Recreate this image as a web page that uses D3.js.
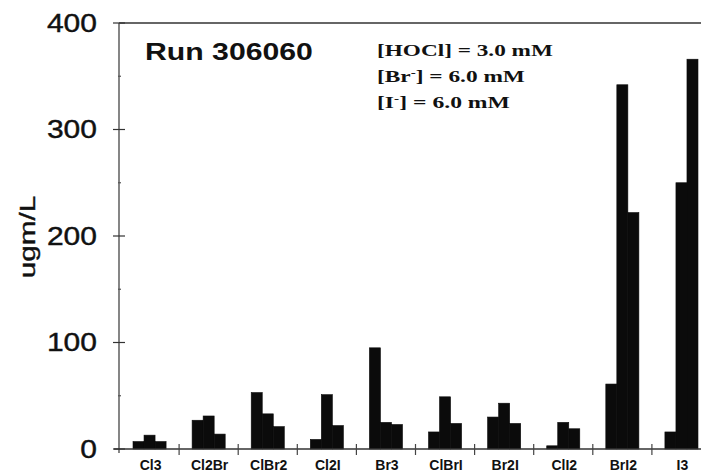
<!DOCTYPE html>
<html>
<head>
<meta charset="utf-8">
<script src="https://cdn.jsdelivr.net/npm/d3@7/dist/d3.min.js"></script>
<style>
  html, body { margin: 0; padding: 0; background: #fff; }
  svg { display: block; }
</style>
</head>
<body>
<div id="chart"></div>
<script>
// Halide compounds on the x axis, three bars each
const categories = ["Cl3", "Cl2Br", "ClBr2", "Cl2I", "Br3", "ClBrI", "Br2I", "ClI2", "BrI2", "I3"];
const seriesA = [7, 27, 53, 9, 95, 16, 30, 3, 61, 16];
const seriesB = [13, 31, 33, 51, 25, 49, 43, 25, 342, 250];
const seriesC = [7, 14, 21, 22, 23, 24, 24, 19, 222, 366];
const yTicks = [0, 100, 200, 300, 400];
const yMinorTicks = [50, 150, 250, 350];

const width = 701, height = 473;

const svg = d3.select("#chart").append("svg")
  .attr("width", width)
  .attr("height", height);

const x0 = d3.scaleBand()
  .domain(categories)
  .range([120, 711])
  .padding(0);

const x1 = d3.scaleBand()
  .domain([0, 1, 2])
  .range([0, x0.bandwidth()])
  .paddingInner(0)
  .paddingOuter(1.18);

const y = d3.scaleLinear()
  .domain([0, 400])
  .range([449, 23]);

const rows = categories.map((c, i) => ({ cat: c, vals: [seriesA[i], seriesB[i], seriesC[i]] }));

// stretch text horizontally so it covers a given width (scan is wide)
function fitWidth(sel, w) {
  sel.each(function() {
    const bb = this.getBBox();
    const s = w / bb.width;
    const ax = +this.getAttribute("x") || 0;
    d3.select(this).attr("transform", `translate(${ax},0) scale(${s},1) translate(${-ax},0)`);
  });
}
function stretch(sel, s) {
  sel.each(function() {
    const ax = +this.getAttribute("x") || 0;
    d3.select(this).attr("transform", `translate(${ax},0) scale(${s},1) translate(${-ax},0)`);
  });
}

// Bars (thin same-colour stroke so neighbours join with no white seam)
const groups = svg.append("g")
  .selectAll("g")
  .data(rows)
  .join("g")
  .attr("transform", d => `translate(${x0(d.cat)},0)`);

groups.selectAll("rect")
  .data(d => d.vals)
  .join("rect")
  .attr("x", (d, i) => x1(i))
  .attr("width", x1.bandwidth())
  .attr("y", d => y(d))
  .attr("height", d => y(0) - y(d))
  .attr("fill", "#0b0b0b")
  .attr("stroke", "#0b0b0b")
  .attr("stroke-width", 0.6);

// Frame lines: top border, y axis, x axis
svg.append("line")
  .attr("x1", 119).attr("x2", width)
  .attr("y1", y(400)).attr("y2", y(400))
  .attr("stroke", "#333").attr("stroke-width", 1.6);

svg.append("line")
  .attr("x1", 119).attr("x2", 119)
  .attr("y1", y(400)).attr("y2", y(0) + 4)
  .attr("stroke", "#444").attr("stroke-width", 1.3);

svg.append("line")
  .attr("x1", 114).attr("x2", width)
  .attr("y1", y(0)).attr("y2", y(0))
  .attr("stroke", "#333").attr("stroke-width", 1.4);

// y ticks crossing the axis
svg.append("g")
  .selectAll("line")
  .data(yTicks)
  .join("line")
  .attr("x1", 113).attr("x2", 125)
  .attr("y1", d => y(d)).attr("y2", d => y(d))
  .attr("stroke", "#333").attr("stroke-width", 1.2);

svg.append("g")
  .selectAll("line")
  .data(yMinorTicks)
  .join("line")
  .attr("x1", 118).attr("x2", 121)
  .attr("y1", d => y(d)).attr("y2", d => y(d))
  .attr("stroke", "#555").attr("stroke-width", 1.2);

// x ticks at the category boundaries
svg.append("g")
  .selectAll("line")
  .data(categories.slice(1))
  .join("line")
  .attr("x1", d => x0(d)).attr("x2", d => x0(d))
  .attr("y1", y(0) - 5).attr("y2", y(0) + 6)
  .attr("stroke", "#444").attr("stroke-width", 1.2);

// y tick labels
svg.append("g")
  .selectAll("text")
  .data(yTicks)
  .join("text")
  .attr("x", 97)
  .attr("y", d => y(d))
  .attr("dy", "0.36em")
  .attr("text-anchor", "end")
  .attr("font-family", "'Liberation Sans', Arial, sans-serif")
  .attr("font-size", 25)
  .attr("fill", "#111")
  .attr("stroke", "#111")
  .attr("stroke-width", 0.4)
  .text(d => d)
  .call(stretch, 1.2);

// category labels
svg.append("g")
  .selectAll("text")
  .data(categories)
  .join("text")
  .attr("x", d => x0(d) + x0.bandwidth() / 2 + 1)
  .attr("y", 470)
  .attr("text-anchor", "middle")
  .attr("font-family", "'Liberation Sans', Arial, sans-serif")
  .attr("font-weight", "bold")
  .attr("font-size", 14)
  .attr("fill", "#111")
  .text(d => d);

// y axis title
svg.append("g")
  .attr("transform", "translate(35,237) rotate(-90)")
  .append("text")
  .attr("x", 0).attr("y", 0)
  .attr("text-anchor", "middle")
  .attr("font-family", "'Liberation Sans', Arial, sans-serif")
  .attr("font-size", 22)
  .attr("fill", "#111")
  .attr("stroke", "#111")
  .attr("stroke-width", 0.4)
  .text("ugm/L")
  .call(stretch, 1.35);

// run title
svg.append("text")
  .attr("x", 145).attr("y", 60)
  .attr("font-family", "'Liberation Sans', Arial, sans-serif")
  .attr("font-weight", "bold")
  .attr("font-size", 24)
  .attr("fill", "#111")
  .text("Run 306060")
  .call(fitWidth, 168);

// conditions block (serif)
const notes = [
  { pre: "[HOCl", sup: "", post: "] = 3.0 mM", yy: 56, w: 176 },
  { pre: "[Br", sup: "-", post: "] = 6.0 mM", yy: 82, w: 148 },
  { pre: "[I", sup: "-", post: "] = 6.0 mM", yy: 108, w: 133 }
];
notes.forEach(n => {
  const t = svg.append("text")
    .attr("x", 377).attr("y", n.yy)
    .attr("font-family", "'Liberation Serif', 'Times New Roman', serif")
    .attr("font-weight", "bold")
    .attr("font-size", 17)
    .attr("fill", "#111");
  t.append("tspan").text(n.pre);
  if (n.sup) {
    t.append("tspan").attr("dy", -6).attr("font-size", 11).text(n.sup);
    t.append("tspan").attr("dy", 6).text(n.post);
  } else {
    t.append("tspan").text(n.post);
  }
  t.call(fitWidth, n.w);
});
</script>
</body>
</html>
